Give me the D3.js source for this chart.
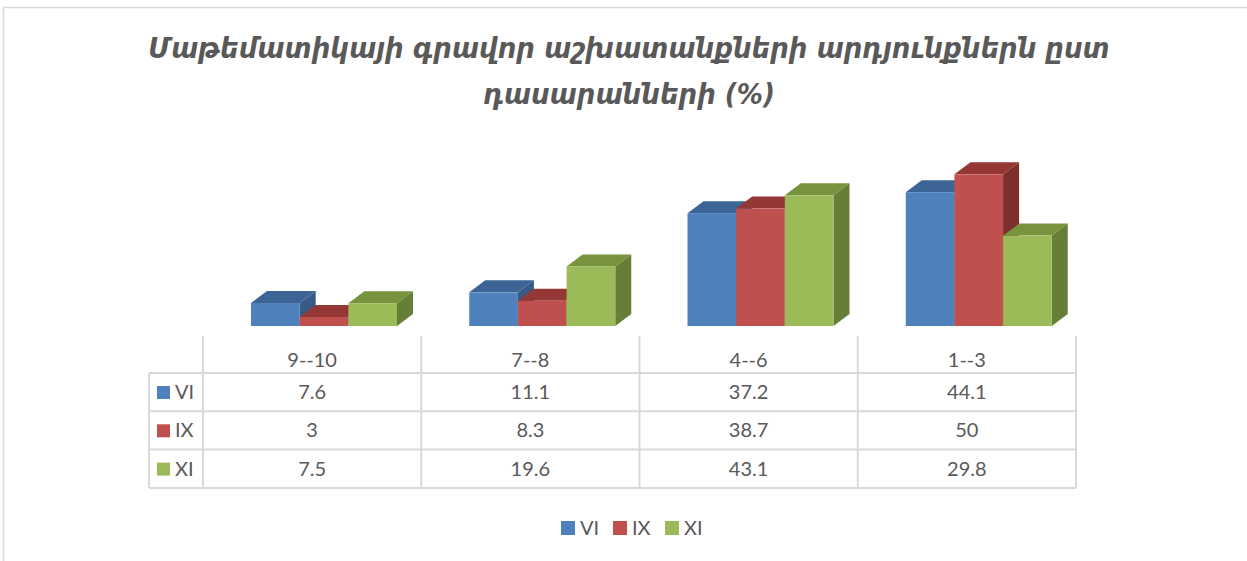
<!DOCTYPE html>
<html>
<head>
<meta charset="utf-8">
<script src="https://cdn.jsdelivr.net/npm/d3@7"></script>
<style>
  body { margin: 0; background: #fff; }
  svg { display: block; }
</style>
</head>
<body>
<script>
let categories = ["9--10", "7--8", "4--6", "1--3"]
let seriesNames = ["VI", "IX", "XI"]
let valuesVI = [7.6, 11.1, 37.2, 44.1]
let valuesIX = [3, 8.3, 38.7, 50]
let valuesXI = [7.5, 19.6, 43.1, 29.8]
let titleLines = ["Մաթեմատիկայի գրավոր աշխատանքների արդյունքներն ըստ", "դասարանների (%)"]

let series = [valuesVI, valuesIX, valuesXI]
let colors = {
  front: ["#4F81BD", "#C0504D", "#9BBB59"],
  top: ["#3C6494", "#943735", "#77933C"],
  side: ["#375A86", "#7D2F2E", "#667F36"]
}

let w = 1247, h = 561
let svg = d3.select("body").append("svg").attr("width", w).attr("height", h)
let font = "Lato, 'Open Sans', sans-serif"

// chart border
svg.append("rect").attr("x", 3.5).attr("y", 7.5).attr("width", 1300).attr("height", 600)
   .attr("fill", "#fff").attr("stroke", "#d9d9d9").attr("stroke-width", 1.5)

// title, sized so the first line spans roughly the reference width
let title = svg.append("g")
let titleSize = 30
let titleTexts = titleLines.map((t, i) => title.append("text")
       .attr("x", 629).attr("y", 58 + i * 46)
       .attr("text-anchor", "middle")
       .attr("font-family", "'DejaVu Sans Condensed', 'DejaVu Sans', sans-serif")
       .attr("font-style", "italic")
       .attr("font-weight", "bold")
       .attr("font-size", titleSize)
       .attr("fill", "#595959")
       .text(t))
let len = titleTexts[0].node().getComputedTextLength()
if (len > 0) {
  titleSize = titleSize * 962 / len
  titleTexts.forEach(t => t.attr("font-size", titleSize))
}

// scales
let x = d3.scaleBand().domain(categories).range([203, 1076])
let x1 = d3.scaleBand().domain(seriesNames).range([48, 48 + 146])
let y = d3.scaleLinear().domain([0, 60]).range([326, 144])
let dx = 16, dy = -12

// bars (drawn left to right so later fronts hide earlier sides)
let bars = svg.append("g")
categories.forEach((c, ci) => {
  seriesNames.forEach((s, si) => {
    let v = series[si][ci]
    let x0 = x(c) + x1(s), x2 = x0 + x1.bandwidth()
    let y0 = y(0), yt = y(v)
    let g = bars.append("g")
    g.append("path")
     .attr("d", `M${x2},${y0}L${x2 + dx},${y0 + dy}L${x2 + dx},${yt + dy}L${x2},${yt}Z`)
     .attr("fill", colors.side[si])
    g.append("path")
     .attr("d", `M${x0},${yt}L${x0 + dx},${yt + dy}L${x2 + dx},${yt + dy}L${x2},${yt}Z`)
     .attr("fill", colors.top[si])
    g.append("rect")
     .attr("x", x0).attr("y", yt).attr("width", x1.bandwidth()).attr("height", y0 - yt)
     .attr("fill", colors.front[si])
  })
})

// data table
let table = svg.append("g")
let headTop = 336, rowTop = 373, rowH = 38.3, leftX = 149
let rows = d3.range(seriesNames.length + 1).map(i => rowTop + i * rowH)
rows.forEach(ry => {
  table.append("line").attr("x1", leftX).attr("x2", 1076).attr("y1", ry).attr("y2", ry)
       .attr("stroke", "#d9d9d9").attr("stroke-width", 2)
})
let colEdges = categories.map(c => x(c)).concat([x.range()[1]])
colEdges.forEach(cx => {
  table.append("line").attr("x1", cx).attr("x2", cx).attr("y1", headTop).attr("y2", rows[rows.length - 1])
       .attr("stroke", "#d9d9d9").attr("stroke-width", 2)
})
table.append("line").attr("x1", leftX).attr("x2", leftX).attr("y1", rowTop).attr("y2", rows[rows.length - 1])
     .attr("stroke", "#d9d9d9").attr("stroke-width", 2)

categories.forEach(c => {
  table.append("text").attr("x", x(c) + x.bandwidth() / 2).attr("y", 367)
       .attr("text-anchor", "middle").attr("font-family", font).attr("font-size", 20)
       .attr("fill", "#595959").text(c)
})
seriesNames.forEach((s, si) => {
  let base = rows[si] + 26
  table.append("rect").attr("x", 157).attr("y", base - 13).attr("width", 13).attr("height", 13)
       .attr("fill", colors.front[si])
  table.append("text").attr("x", 175).attr("y", base)
       .attr("font-family", font).attr("font-size", 20).attr("fill", "#595959").text(s)
  categories.forEach((c, ci) => {
    table.append("text").attr("x", x(c) + x.bandwidth() / 2).attr("y", base)
         .attr("text-anchor", "middle").attr("font-family", font).attr("font-size", 20)
         .attr("fill", "#595959").text(series[si][ci])
  })
})

// legend
let legend = svg.append("g")
let legendX = [561, 613, 665]
seriesNames.forEach((s, si) => {
  legend.append("rect").attr("x", legendX[si]).attr("y", 521).attr("width", 14).attr("height", 14)
        .attr("fill", colors.front[si])
  legend.append("text").attr("x", legendX[si] + 19).attr("y", 535)
        .attr("font-family", font).attr("font-size", 20).attr("fill", "#595959").text(s)
})
</script>
</body>
</html>
